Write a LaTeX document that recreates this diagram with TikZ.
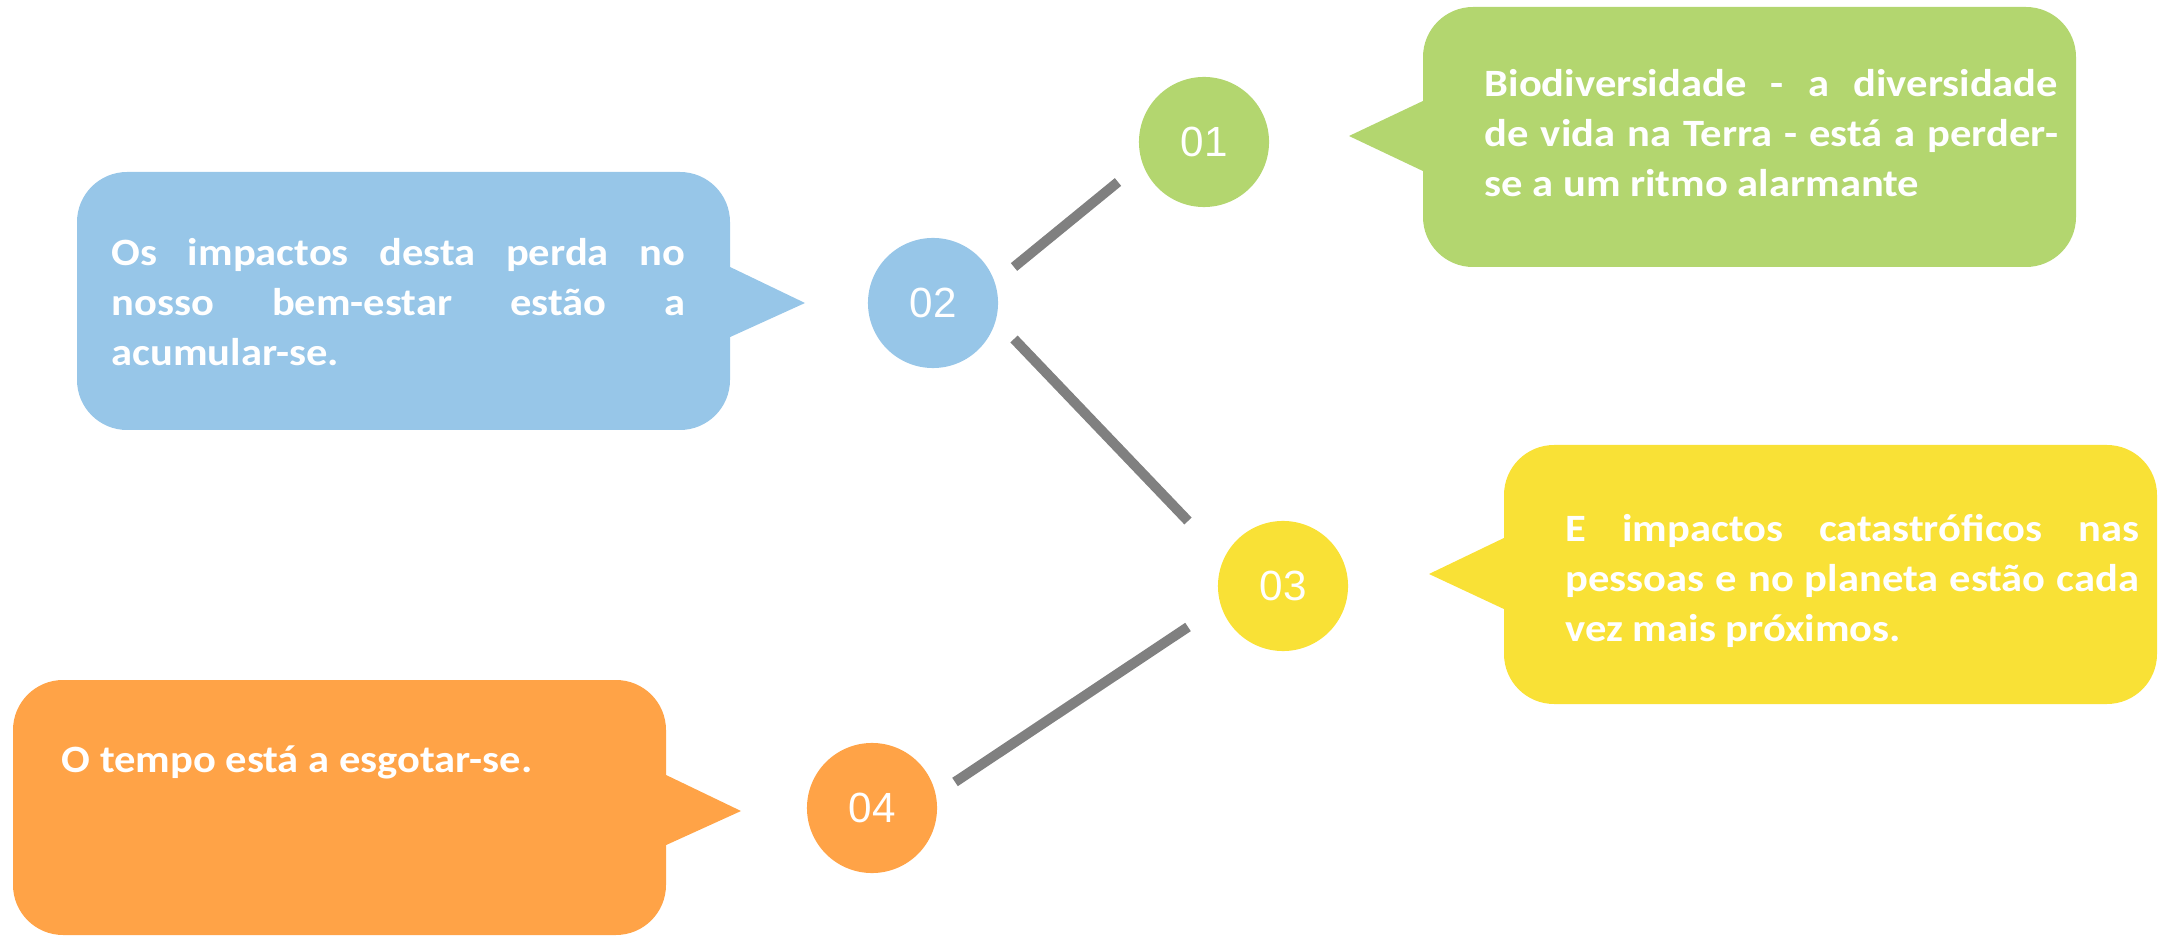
\documentclass[tikz,border=0pt]{standalone}
\usepackage{fontspec}
\setmainfont{Carlito}[FakeStretch=1.1]
\newfontfamily\numfont{Liberation Sans}
\definecolor{leafgreen}{RGB}{179,214,111}
\definecolor{skyblue}{RGB}{151,198,232}
\definecolor{sunyellow}{RGB}{249,225,54}
\definecolor{warmorange}{RGB}{255,163,71}
\definecolor{linegray}{RGB}{128,128,128}
\tikzset{
	numdot/.style={circle, minimum size=1.3cm, inner sep=0pt, text=white, font=\numfont\fontsize{12}{12}\selectfont},
	bubbletext/.style={anchor=base west, inner sep=0pt, text width=5.73cm, align=justify, text=white, font=\bfseries\fontsize{11}{14.2}\selectfont},
	link/.style={draw=linegray, line width=0.1cm},
	bubble/.style={rounded corners=0.5cm}
}

\begin{document}
\begin{tikzpicture}[x=0.01cm, y=-0.01cm]
		%%%%% START %%%%%
		\useasboundingbox (0, 0) rectangle (2163, 937);
		
		% bubbles
		\fill[leafgreen, bubble] (1423, 7) rectangle (2076, 267);
		\fill[leafgreen] (1425, 100) -- (1349, 136) -- (1425, 172) -- cycle;
		
		\fill[skyblue, bubble] (77, 172) rectangle (730, 430);
		\fill[skyblue] (728, 266) -- (805, 303) -- (728, 338) -- cycle;
		
		\fill[sunyellow, bubble] (1504, 445) rectangle (2157, 704);
		\fill[sunyellow] (1506, 537) -- (1429, 574) -- (1506, 610) -- cycle;
		
		\fill[warmorange, bubble] (13, 680) rectangle (666, 935);
		\fill[warmorange] (664, 774) -- (741, 811) -- (664, 846) -- cycle;
		
		% texts
		\node[bubbletext] (t01) at (1484, 97) {Biodiversidade - a diversidade\linebreak de vida na Terra - está a perder-\linebreak se a um ritmo alarmante};
		\node[bubbletext] (t02) at (111, 266) {Os impactos desta perda no\linebreak nosso bem-estar estão a\linebreak acumular-se.};
		\node[bubbletext] (t03) at (1565, 542) {E impactos catastróficos nas\linebreak pessoas e no planeta estão cada\linebreak vez mais próximos.};
		\node[bubbletext] (t04) at (61, 772) {O tempo está a esgotar-se.};
		
		% circles
		\node[numdot, fill=leafgreen] (n01) at (1204, 142) {01};
		\node[numdot, fill=skyblue] (n02) at (933, 303) {02};
		\node[numdot, fill=sunyellow] (n03) at (1283, 586) {03};
		\node[numdot, fill=warmorange] (n04) at (872, 808) {04};
		
		% links
		\coordinate (l1a) at (1014, 267);
		\coordinate (l1b) at (1118, 182);
		\coordinate (l2a) at (1014, 339);
		\coordinate (l2b) at (1188, 521);
		\coordinate (l3a) at (1188, 627);
		\coordinate (l3b) at (955, 782);
		\draw[link] (l1a) -- (l1b);
		\draw[link] (l2a) -- (l2b);
		\draw[link] (l3a) -- (l3b);
		%%%%% END %%%%%
	\end{tikzpicture}
\end{document}
